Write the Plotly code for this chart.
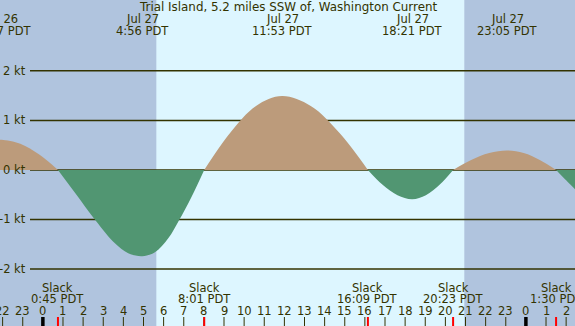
import plotly.graph_objects as go

# ---- data (hours relative to Jul 27 00:00 PDT) ----
curve_hours = [-2.3, -2.05, -1.12, -0.18, 0.75,
               1.595, 2.62, 3.58, 4.24, 4.933, 5.57, 6.23, 6.76, 7.39, 8.017,
               9.31, 10.59, 11.883, 13.31, 14.73, 16.15,
               16.88, 17.62, 18.35, 19.03, 19.71, 20.383,
               21.28, 22.18, 23.083, 23.89, 24.69, 25.5,
               26.0, 26.44, 26.6]
curve_knots = [0.60, 0.61, 0.53, 0.31, 0.0,
               -0.46, -1.02, -1.48, -1.68, -1.74, -1.66, -1.38, -1.02, -0.54, 0.0,
               0.75, 1.29, 1.49, 1.29, 0.75, 0.0,
               -0.30, -0.51, -0.59, -0.51, -0.30, 0.0,
               0.20, 0.34, 0.39, 0.34, 0.20, 0.0,
               -0.21, -0.39, -0.45]

max_hours = [-2.05, 4.933, 11.883, 18.35, 23.083]
max_dates = ["Jul 26", "Jul 27", "Jul 27", "Jul 27", "Jul 27"]
max_labels = ["21:57 PDT", "4:56 PDT", "11:53 PDT", "18:21 PDT", "23:05 PDT"]

slack_hours = [0.75, 8.017, 16.15, 20.383, 25.5]
slack_labels = ["0:45 PDT", "8:01 PDT", "16:09 PDT", "20:23 PDT", "1:30 PDT"]

sunrise_hour = 5.65
sunset_hour = 20.94
midnight_hours = [0, 24]
hour_ticks = list(range(-2, 27))
kt_levels = [2, 1, 0, -1, -2]

title = "Trial Island, 5.2 miles SSW of, Washington Current"

# ---- style ----
W, H = 575, 326
X_RANGE = [-2.13, 26.44]
Y_RANGE = [-3.15, 3.43]
NIGHT = "#B0C4DE"
DAY = "#DDF6FF"
FLOOD = "#BC9B7B"
EBB = "#519672"
INK = "#333300"
FONT = "DejaVu Sans"


def py(pix):
    """pixel-from-top to paper y"""
    return 1 - pix / H


fig = go.Figure()

# split curve into lobes at slack points
segments = []
cur = []
for h, v in zip(curve_hours, curve_knots):
    cur.append((h, v))
    if v == 0 and len(cur) > 1:
        segments.append(cur)
        cur = [(h, v)]
if len(cur) > 1:
    segments.append(cur)

for seg in segments:
    xs = [p[0] for p in seg]
    ys = [p[1] for p in seg]
    positive = max(ys) > 0
    col = FLOOD if positive else EBB
    fig.add_trace(go.Scatter(
        x=xs, y=ys, mode="lines", fill="tozeroy", fillcolor=col,
        line=dict(width=0, shape="spline", smoothing=1.0, color=col, simplify=False),
        hoverinfo="skip", showlegend=False))

shapes = []
# night / day backgrounds
shapes.append(dict(type="rect", xref="x", yref="paper", x0=X_RANGE[0] - 1, x1=sunrise_hour,
                   y0=0, y1=1, fillcolor=NIGHT, line_width=0, layer="below"))
shapes.append(dict(type="rect", xref="x", yref="paper", x0=sunrise_hour, x1=sunset_hour,
                   y0=0, y1=1, fillcolor=DAY, line_width=0, layer="below"))
shapes.append(dict(type="rect", xref="x", yref="paper", x0=sunset_hour, x1=X_RANGE[1] + 1,
                   y0=0, y1=1, fillcolor=NIGHT, line_width=0, layer="below"))
# grid lines
for k in kt_levels:
    shapes.append(dict(type="line", xref="paper", yref="y", x0=30 / W, x1=1, y0=k, y1=k,
                       line=dict(color=INK, width=1.5), layer="below"))
# hour ticks
for h in hour_ticks:
    shapes.append(dict(type="line", xref="x", yref="paper", x0=h, x1=h, y0=0, y1=py(317),
                       line=dict(color=INK, width=1)))
for h in midnight_hours:
    shapes.append(dict(type="line", xref="x", yref="paper", x0=h, x1=h, y0=0, y1=py(317),
                       line=dict(color="#000000", width=3.5)))
for h in slack_hours:
    shapes.append(dict(type="line", xref="x", yref="paper", x0=h, x1=h, y0=0, y1=py(317),
                       line=dict(color="#FF0000", width=2)))

ann = []
tf = dict(family=FONT, size=11.5, color=INK)
ann.append(dict(text=title, x=0.5, xref="paper", y=py(7), yref="paper",
                showarrow=False, font=dict(family=FONT, size=11.9, color=INK),
                xanchor="center", yanchor="middle"))
for h, d, lab in zip(max_hours, max_dates, max_labels):
    ann.append(dict(text=d, x=h, xref="x", y=py(19), yref="paper", showarrow=False,
                    font=tf, xanchor="center", yanchor="middle"))
    ann.append(dict(text=lab, x=h, xref="x", y=py(31), yref="paper", showarrow=False,
                    font=tf, xanchor="center", yanchor="middle"))
for h, lab in zip(slack_hours, slack_labels):
    ann.append(dict(text="Slack", x=h, xref="x", y=py(287.5), yref="paper", showarrow=False,
                    font=tf, xanchor="center", yanchor="middle"))
    ann.append(dict(text=lab, x=h, xref="x", y=py(299), yref="paper", showarrow=False,
                    font=tf, xanchor="center", yanchor="middle"))
for h in hour_ticks:
    ann.append(dict(text=str(h % 24), x=h, xref="x", y=py(311), yref="paper", showarrow=False,
                    font=tf, xanchor="center", yanchor="middle"))
for k in kt_levels:
    ann.append(dict(text=f"{k} kt", x=28 / W, xref="paper", y=k, yref="y", showarrow=False,
                    font=tf, xanchor="right", yanchor="middle"))

fig.update_layout(
    width=W, height=H, margin=dict(l=0, r=0, t=0, b=0),
    paper_bgcolor=DAY, plot_bgcolor=DAY,
    xaxis=dict(range=X_RANGE, visible=False, fixedrange=True),
    yaxis=dict(range=Y_RANGE, visible=False, fixedrange=True),
    shapes=shapes, annotations=ann, showlegend=False,
)

fig.write_html("out.html", config={"displayModeBar": False},
               post_script="document.body.style.margin='0px';"
                           "document.body.style.overflow='hidden';")
